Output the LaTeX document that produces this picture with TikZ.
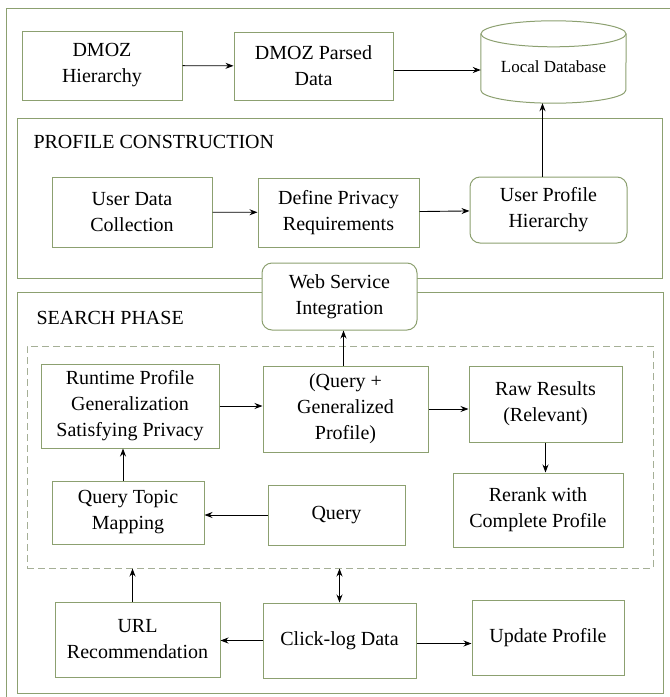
\documentclass[tikz,border=0pt]{standalone}
\usepackage{fontspec}
\setmainfont{Liberation Serif}
\newfontfamily\diagfont{Liberation Serif}
\usepackage{tikz}
\usetikzlibrary{arrows.meta,positioning,calc}

\definecolor{boxline}{RGB}{140,160,112}
\definecolor{dashline}{RGB}{165,175,150}

\begin{document}
\begin{tikzpicture}[x=1pt,y=-1pt,>={Stealth[length=8pt,width=6pt]},
    box/.style={draw=boxline,line width=1pt,align=center,inner sep=2pt,
                font=\diagfont\fontsize{20}{26}\selectfont},
    rbox/.style={box,rounded corners=10pt,fill=white},
    section/.style={draw=boxline,line width=1pt,inner sep=0pt},
    title/.style={anchor=west,font=\diagfont\fontsize{20}{26}\selectfont},
    link/.style={->,line width=0.9pt}]
  \useasboundingbox (0,0) rectangle (670,697);
  \draw[boxline,line width=1pt] (6,705) -- (6,8) -- (680,8);

  \node[box,minimum width=160pt,minimum height=69pt] (dmozh) at (102,65.5) {DMOZ\\Hierarchy};
  \node[box,minimum width=159pt,minimum height=68pt] (dmozp) at (313.5,66) {DMOZ Parsed\\Data};
  % database drum
  \node[inner sep=0pt,minimum width=145pt,minimum height=82pt] (localdb) at (553.5,62) {};
  \draw[boxline,line width=1pt] ([yshift=-13pt]localdb.north west)
    -- ([yshift=13pt]localdb.south west)
    arc[start angle=180,end angle=360,x radius=72.5pt,y radius=13pt]
    -- ([yshift=-13pt]localdb.north east);
  \draw[boxline,line width=1pt] ([yshift=-13pt]localdb.north) ellipse[x radius=72.5pt,y radius=13pt];
  \node[font=\diagfont\fontsize{17}{22}\selectfont] (dbtext) at (553.5,67) {Local Database};

  \node[section,minimum width=645pt,minimum height=160pt] (profile) at (339.5,198) {};
  \node[title] (proftitle) at (30,142) {PROFILE CONSTRUCTION};
  \node[box,minimum width=160pt,minimum height=70pt] (udc) at (132,212) {User Data\\Collection};
  \node[box,minimum width=161pt,minimum height=69pt] (dpr) at (338.5,212.5) {Define Privacy\\Requirements};
  \node[rbox,minimum width=157pt,minimum height=66pt] (uph) at (548.5,210) {User Profile\\Hierarchy};

  \node[section,minimum width=646pt,minimum height=401pt] (search) at (340,492.5) {};
  \node[title] (searchtitle) at (33,318) {SEARCH PHASE};
  \node[draw=dashline,line width=1pt,dash pattern=on 7pt off 4pt,inner sep=0pt,
        minimum width=626pt,minimum height=222pt] (inner) at (340,457) {};
  \node[rbox,minimum width=155pt,minimum height=67pt] (wsi) at (339.5,296.5) {Web Service\\Integration};

  \node[box,minimum width=178pt,minimum height=84pt] (rpg) at (130,406) {Runtime Profile\\Generalization\\Satisfying Privacy};
  \node[box,minimum width=165pt,minimum height=86pt] (qgp) at (345.5,409) {(Query +\\Generalized\\Profile)};
  \node[box,minimum width=153pt,minimum height=76pt] (raw) at (545.5,404) {Raw Results\\(Relevant)};
  \node[box,minimum width=170pt,minimum height=74pt] (rerank) at (538,510) {Rerank with\\Complete Profile};
  \node[box,minimum width=137pt,minimum height=60pt] (query) at (336.5,515) {Query};
  \node[box,minimum width=152pt,minimum height=63pt] (qtm) at (128,512.5) {Query Topic\\Mapping};

  \node[box,minimum width=165pt,minimum height=75pt] (url) at (137.5,639.5) {URL\\Recommendation};
  \node[box,minimum width=153pt,minimum height=75pt] (click) at (339.5,640.5) {Click-log Data};
  \node[box,minimum width=152pt,minimum height=75pt] (update) at (548,637.5) {Update Profile};

  \draw[link] (dmozh) -- (dmozp);
  \draw[link] ([yshift=-4pt]dmozp.east) -- ([yshift=-4pt]dmozp.east -| localdb.west);
  \draw[link] ([xshift=-6pt]uph.north) -- ([xshift=-6pt]uph.north |- localdb.south);
  \draw[link] (udc) -- (dpr);
  \draw[link] (dpr) -- (uph);
  \draw[link] ([xshift=-2pt]qgp.north) -- ([xshift=-2pt]qgp.north |- wsi.south);
  \draw[link] (rpg.east) -- (rpg.east -| qgp.west);
  \draw[link] (qgp.east) -- (qgp.east -| raw.west);
  \draw[link] (raw.south) -- (raw.south |- rerank.north);
  \draw[link] (query) -- (query -| qtm.east);
  \draw[link] ([xshift=-5pt]qtm.north) -- ([xshift=-5pt]qtm.north |- rpg.south);
  \draw[link] ([xshift=-5pt]url.north) -- ([xshift=-5pt]url.north |- inner.south);
  \draw[link,<->] (click.north) -- (click.north |- inner.south);
  \draw[link] (click) -- (click -| url.east);
  \draw[link] ([yshift=-3pt]click.east) -- ([yshift=-3pt]click.east -| update.west);
\end{tikzpicture}
\end{document}
